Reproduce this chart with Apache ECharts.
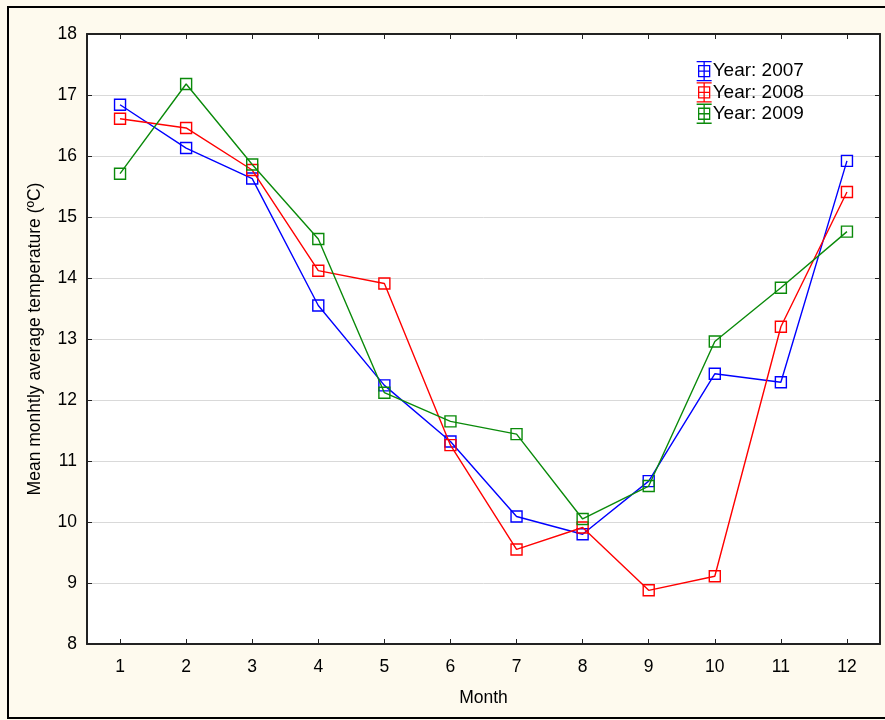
<!DOCTYPE html>
<html>
<head>
<meta charset="utf-8">
<script src="https://cdn.jsdelivr.net/npm/echarts@6/dist/echarts.min.js"></script>
<style>html,body{margin:0;padding:0;background:#fff;}#chart{width:885px;height:720px;}</style>
</head>
<body>
<div id="chart"></div>
<script>
var months = ['1','2','3','4','5','6','7','8','9','10','11','12'];
var yTicks = [8, 18, 1];
var seriesNames = ['Year: 2007', 'Year: 2008', 'Year: 2009'];
var y2007 = [16.84, 16.13, 15.63, 13.55, 12.24, 11.32, 10.09, 9.80, 10.67, 12.43, 12.29, 15.92];
var y2008 = [16.61, 16.46, 15.77, 14.12, 13.91, 11.26, 9.55, 9.91, 8.88, 9.11, 13.20, 15.41];
var y2009 = [15.71, 17.18, 15.86, 14.64, 12.12, 11.65, 11.44, 10.05, 10.59, 12.96, 13.84, 14.76];
var colors = ['#0000ff', '#ff0000', '#0a8a0a'];
var allData = [y2007, y2008, y2009];

var font = 'Liberation Sans, Arial, sans-serif';
var legendIcon = 'path://M0,0H15M0,19H15M7.5,0V19M2,4H13V15H2ZM2,9.5H13';

var chart = echarts.init(document.getElementById('chart'), null, {renderer: 'canvas'});

var series = allData.map(function (d, i) {
  return {
    name: seriesNames[i],
    type: 'line',
    data: d,
    xAxisIndex: 0,
    yAxisIndex: 0,
    symbol: 'rect',
    symbolSize: 11,
    lineStyle: {color: colors[i], width: 1.4},
    itemStyle: {color: 'rgba(0,0,0,0)', borderColor: colors[i], borderWidth: 1.4},
    emphasis: {disabled: true},
    animation: false,
    z: 3 + i
  };
});

var axisLineStyle = {color: '#222', width: 2};

var option = {
  backgroundColor: '#fefaee',
  animation: false,
  textStyle: {fontFamily: font},
  graphic: [{
    type: 'rect',
    shape: {x: 8, y: 7, width: 890, height: 711},
    style: {fill: 'none', stroke: '#000', lineWidth: 2},
    silent: true,
    z: -1
  }],
  grid: {
    left: 87, right: 5, top: 34, bottom: 76,
    show: true, backgroundColor: '#ffffff', borderWidth: 0
  },
  legend: {
    left: 696, top: 61, orient: 'vertical', itemGap: 1, padding: 0,
    itemWidth: 15, itemHeight: 19,
    textStyle: {fontFamily: font, fontSize: 19, color: '#000', padding: [0,0,0,-4]},
    data: seriesNames.map(function (n, i) {
      return {
        name: n, icon: legendIcon,
        itemStyle: {color: 'rgba(0,0,0,0)', borderColor: colors[i], borderWidth: 1.3}
      };
    })
  },
  xAxis: [{
    type: 'category', data: months, boundaryGap: true, position: 'bottom',
    name: 'Month', nameLocation: 'middle', nameGap: 45,
    nameTextStyle: {fontFamily: font, fontSize: 17.5, color: '#000'},
    axisLine: {show: true, lineStyle: axisLineStyle},
    axisTick: {show: true, inside: true, alignWithLabel: true, length: 5, lineStyle: {color: '#222'}},
    axisLabel: {fontFamily: font, fontSize: 17.5, color: '#000', margin: 14},
    splitLine: {show: false}
  }, {
    type: 'category', data: months, boundaryGap: true, position: 'top',
    axisLine: {show: true, lineStyle: axisLineStyle},
    axisTick: {show: true, inside: true, alignWithLabel: true, length: 5, lineStyle: {color: '#222'}},
    axisLabel: {show: false},
    splitLine: {show: false}
  }],
  yAxis: [{
    type: 'value', min: yTicks[0], max: yTicks[1], interval: yTicks[2], position: 'left',
    name: 'Mean monhtly average temperature (ºC)', nameLocation: 'middle', nameGap: 43,
    nameTextStyle: {fontFamily: font, fontSize: 17.5, color: '#000'},
    axisLine: {show: true, lineStyle: axisLineStyle},
    axisTick: {show: true, inside: true, length: 5, lineStyle: {color: '#222'}},
    axisLabel: {fontFamily: font, fontSize: 17.5, color: '#000', margin: 10},
    splitLine: {show: true, lineStyle: {color: '#d9d9d9', width: 1}}
  }, {
    type: 'value', min: yTicks[0], max: yTicks[1], interval: yTicks[2], position: 'right',
    axisLine: {show: true, lineStyle: axisLineStyle},
    axisTick: {show: true, inside: true, length: 5, lineStyle: {color: '#222'}},
    axisLabel: {show: false},
    splitLine: {show: false}
  }],
  series: series
};
chart.setOption(option);
</script>
</body>
</html>
